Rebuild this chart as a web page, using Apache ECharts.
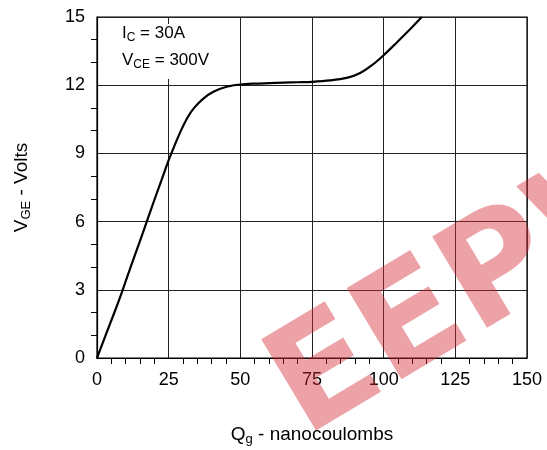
<!DOCTYPE html>
<html><head><meta charset="utf-8">
<script src="https://cdn.jsdelivr.net/npm/echarts@6/dist/echarts.min.js"></script>
<style>html,body{margin:0;padding:0;background:#fff}#c{width:547px;height:450px}</style>
</head><body><div id="c"></div>
<script>
var qValues = [0,3,6,8.7,12,16,20,23,25,26.9,29.2,31.5,33.8,37.2,40.6,45.2,50,55,60,65,70,75,81.3,87.1,91.8,96.4,100,104.5,109.2,113.3];
var vgeValues = [0,1.0,1.98,2.9,4.1,5.5,6.95,8.0,8.7,9.3,9.98,10.56,10.99,11.42,11.71,11.93,12.03,12.07,12.09,12.11,12.13,12.15,12.21,12.32,12.54,12.93,13.32,13.87,14.46,15.0];
var xTicks = [0,25,50,75,100,125,150];
var yTicks = [0,3,6,9,12,15];

var F = 'Liberation Sans, Arial, sans-serif';
var data = qValues.map(function(q,i){return [q, vgeValues[i]];});
var chart = echarts.init(document.getElementById('c'), null, {renderer:'canvas'});
var nameRich = {a:{fontSize:19,fontFamily:F,color:'#000'},s:{fontSize:13,fontFamily:F,color:'#000',padding:[10,0,0,0]}};
chart.setOption({
  animation:false,
  backgroundColor:'#fff',
  grid:{left:97,top:17,right:20,bottom:92,containLabel:false,outerBoundsMode:'none',show:true,borderColor:'#000',borderWidth:1.2},
  xAxis:{type:'value',min:xTicks[0],max:xTicks[xTicks.length-1],interval:25,
    axisLine:{show:true,onZero:false,lineStyle:{color:'#000',width:1.2}},
    axisTick:{show:false},
    minorTick:{show:true,splitNumber:5,length:6,lineStyle:{color:'#000'}},
    minorSplitLine:{show:false},
    splitLine:{show:true,lineStyle:{color:'#222',width:1}},
    axisLabel:{color:'#000',fontSize:18,fontFamily:F,margin:13},
    name:'{a|Q}{s|g}{a| - nanocoulombs}',nameLocation:'middle',nameGap:65,
    nameTextStyle:{rich:nameRich}
  },
  yAxis:{type:'value',min:yTicks[0],max:yTicks[yTicks.length-1],interval:3,
    axisLine:{show:true,onZero:false,lineStyle:{color:'#000',width:1.2}},
    axisTick:{show:false},
    minorTick:{show:true,splitNumber:3,length:6,lineStyle:{color:'#000'}},
    splitLine:{show:true,lineStyle:{color:'#222',width:1}},
    axisLabel:{color:'#000',fontSize:18,fontFamily:F,margin:12},
    name:'{a|V}{s|GE}{a| - Volts}',nameLocation:'middle',nameGap:64,nameRotate:90,
    nameTextStyle:{rich:nameRich}
  },
  graphic:[
    {type:'rect',left:105,top:24,shape:{width:115,height:55},style:{fill:'#fff'},z:5},
    {type:'text',left:122,top:25,z:6,style:{text:'{a|I}{s|C}{a| = 30A}',rich:{a:{fontSize:17,fontFamily:F,fill:'#000'},s:{fontSize:12,fontFamily:F,fill:'#000',padding:[8,0,0,0]}}}},
    {type:'text',left:122,top:52,z:6,style:{text:'{a|V}{s|CE}{a| = 300V}',rich:{a:{fontSize:17,fontFamily:F,fill:'#000'},s:{fontSize:12,fontFamily:F,fill:'#000',padding:[8,0,0,0]}}}},
    {type:'text',x:285,y:405,rotation:31*Math.PI/180,z:10,style:{text:'EEPW',font:'bold 146px DejaVu Sans',fill:'rgba(210,40,50,0.43)',align:'left',verticalAlign:'middle'}}
  ],
  series:[{type:'line',data:data,smooth:0.3,showSymbol:false,lineStyle:{color:'#000',width:2.2},z:3}]
});
</script></body></html>
